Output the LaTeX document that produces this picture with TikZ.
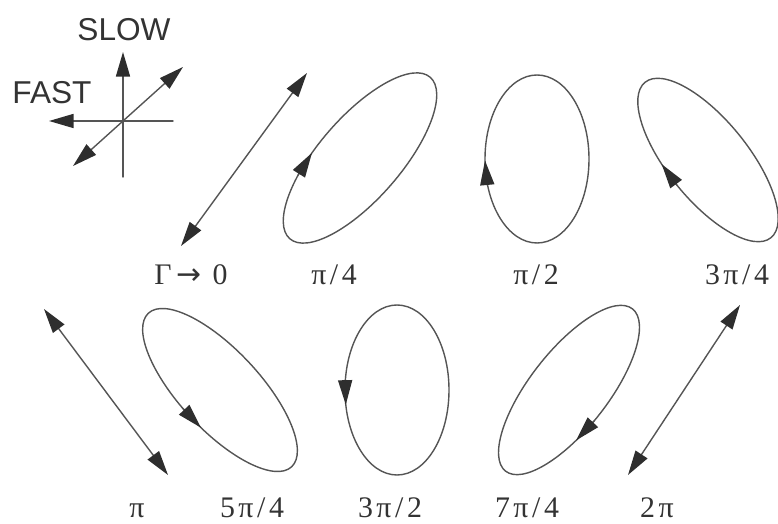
\documentclass[tikz,border=0pt]{standalone}
\usepackage{fontspec}
\setmainfont{Liberation Serif}
\newfontfamily\axisfont{Liberation Sans}
\newfontfamily\arrowfont{DejaVu Sans}
\newfontfamily\phasefont[LetterSpace=12]{Liberation Serif}
\usetikzlibrary{arrows.meta}

\begin{document}
\begin{tikzpicture}[
    x=0.02cm, y=0.02cm,
    line join=round,
    line cap=round,
    >={Triangle[length=14pt,width=8pt,color=tipgray]},
    curve/.style={line width=0.8pt, draw=inkgray},
    axis/.style={line width=0.8pt, draw=inkgray},
    axlabel/.style={font=\axisfont\fontsize{18}{21}\selectfont, text=inkdark, inner sep=0pt},
    phase/.style={font=\phasefont\fontsize{17}{20}\selectfont, text=inkdark, inner sep=0pt, anchor=base}
]

% -------------------------------------------------
% Palette
% -------------------------------------------------
\definecolor{inkgray}{HTML}{555555}  % lines
\definecolor{tipgray}{HTML}{2E2E2E}  % arrow heads
\definecolor{inkdark}{HTML}{333333}  % text

\useasboundingbox (0,0) rectangle (778,524);

% -------------------------------------------------
% Fast / slow axes
% -------------------------------------------------
\draw[axis, ->] (123,347) -- (123,472);
\draw[axis, ->] (173,403) -- (49,403);
\draw[axis, <->] (73,358) -- (183,457);

\node[axlabel] (slow) at (124,494) {SLOW};
\node[axlabel] (fast) at (52,431) {FAST};

% -------------------------------------------------
% Linear states
% -------------------------------------------------
\draw[axis, <->] (181,278) -- (307,451);  % Gamma -> 0
\draw[axis, <->] (44,215) -- (168,49);    % pi
\draw[axis, <->] (628,49) -- (740,219);   % 2 pi

% -------------------------------------------------
% Elliptical states (centre / radii / tilt / arrow)
% -------------------------------------------------
\foreach \cx/\cy/\a/\b/\ang/\t/\d in {
    360/366/107/41/49/105/-15,
    537/365/52/84/0/181/-15,
    708/364/100/40/129/75/-15,
    220/134/105/40/133/98/15,
    397/134/52/85/0/190/15,
    569/134/103/39/52/250/-15}
{
    \draw[curve, rotate around={\ang:(\cx,\cy)}]
        (\cx,\cy) ellipse [x radius=\a, y radius=\b];
    \pgfmathsetmacro{\ts}{\t-\d}
    \path[rotate around={\ang:(\cx,\cy)}]
        (\cx,\cy) ++(\ts:{\a} and {\b}) coordinate (s)
        (\cx,\cy) ++(\t:{\a} and {\b}) coordinate (e);
    \draw[curve, ->] (s) -- (e);
}

% -------------------------------------------------
% Phase labels
% -------------------------------------------------
\foreach \n/\x/\y/\txt in {
    g0/191/239/{Γ\,{\arrowfont →}\ 0},
    p4/334/239/{π/4},
    p2/536/239/{π/2},
    tp4/737/239/{3π/4},
    p/137/6/{π},
    fp4/252/6/{5π/4},
    tp2/390/6/{3π/2},
    sp4/527/6/{7π/4},
    twop/657/6/{2π}}
{
    \node[phase] (lab-\n) at (\x,\y) {\txt};
}

\end{tikzpicture}
\end{document}
